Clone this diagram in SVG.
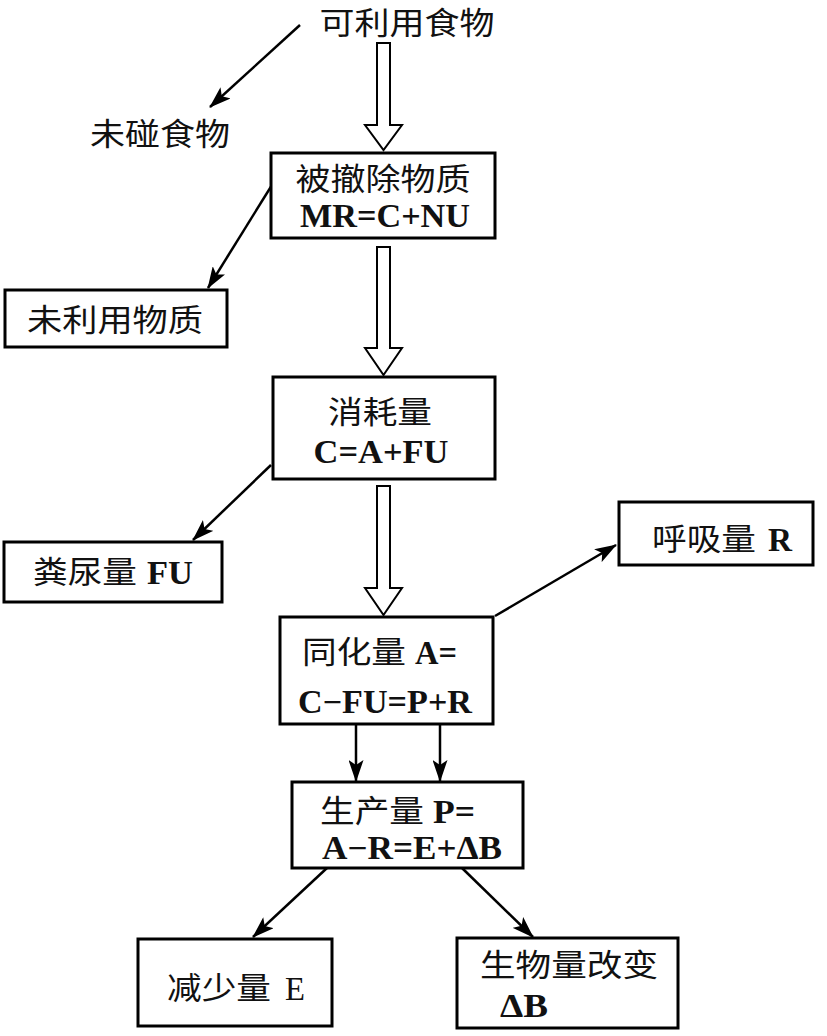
<svg xmlns="http://www.w3.org/2000/svg" width="827" height="1036" viewBox="0 0 827 1036">
<defs>
<style>
.box{fill:#fff;stroke:#000;stroke-width:3}
.cn{font-family:"Noto Sans CJK SC","Liberation Serif",serif;font-size:31px;fill:#111}
.lt{font-family:"Liberation Serif","Noto Sans CJK SC",serif;font-weight:bold;font-size:33px;fill:#111}
.rg{font-weight:normal}
.arr{fill:none;stroke:#000;stroke-width:2.5;marker-end:url(#ah)}
.hol{fill:#fff;stroke:#000;stroke-width:2;stroke-linejoin:miter}
</style>
<marker id="ah" viewBox="0 0 22 15" refX="21" refY="7.5" markerWidth="22" markerHeight="15" markerUnits="userSpaceOnUse" orient="auto">
<path d="M0,0 L22,7.5 L0,15 L5,7.5 z" fill="#000"/>
</marker>
</defs>
<rect width="827" height="1036" fill="#fff"/>

<g id="connectors">
<line class="arr" x1="300" y1="25" x2="210" y2="107"/>
<line class="arr" x1="272" y1="185" x2="208" y2="288"/>
<line class="arr" x1="271" y1="465" x2="193" y2="540"/>
<line class="arr" x1="495" y1="616" x2="616" y2="545"/>
<line class="arr" x1="356" y1="724" x2="356" y2="781"/>
<line class="arr" x1="440" y1="724" x2="440" y2="781"/>
<line class="arr" x1="327" y1="868" x2="253" y2="937"/>
<line class="arr" x1="462" y1="868" x2="533" y2="937"/>
<polygon class="hol" points="377,43 390,43 390,125 402,125 383.5,150 365,125 377,125"/>
<polygon class="hol" points="377,247 390,247 390,348 402,348 383.5,375 365,348 377,348"/>
<polygon class="hol" points="377,486 390,486 390,588 402,588 383.5,615 365,588 377,588"/>
</g>

<g id="food">
<text class="cn" x="407" y="34" text-anchor="middle" textLength="175" lengthAdjust="spacingAndGlyphs">可利用食物</text>
</g>
<g id="uneaten">
<text class="cn" x="160" y="145" text-anchor="middle" textLength="140" lengthAdjust="spacingAndGlyphs">未碰食物</text>
</g>
<g id="removed">
<rect class="box" x="271" y="153" width="224" height="85"/>
<text class="cn" x="383" y="190" text-anchor="middle" textLength="175" lengthAdjust="spacingAndGlyphs">被撤除物质</text>
<text class="lt" x="385" y="227" text-anchor="middle" textLength="170" lengthAdjust="spacingAndGlyphs">MR=C+NU</text>
</g>
<g id="unused">
<rect class="box" x="5" y="290" width="222" height="57"/>
<text class="cn" x="115" y="331" text-anchor="middle" textLength="176" lengthAdjust="spacingAndGlyphs">未利用物质</text>
</g>
<g id="consumed">
<rect class="box" x="273" y="377" width="222" height="102"/>
<text class="cn" x="380" y="423" text-anchor="middle" textLength="104" lengthAdjust="spacingAndGlyphs">消耗量</text>
<text class="lt" x="381" y="463" text-anchor="middle" textLength="135" lengthAdjust="spacingAndGlyphs">C=A+FU</text>
</g>
<g id="feces">
<rect class="box" x="4" y="542" width="218" height="60"/>
<text class="cn" x="33" y="583" textLength="104" lengthAdjust="spacingAndGlyphs">粪尿量</text>
<text class="lt" x="147" y="584" textLength="46" lengthAdjust="spacingAndGlyphs">FU</text>
</g>
<g id="respiration">
<rect class="box" x="619" y="502" width="194" height="63"/>
<text class="cn" x="652" y="550" textLength="104" lengthAdjust="spacingAndGlyphs">呼吸量</text>
<text class="lt" x="768" y="551" textLength="24" lengthAdjust="spacingAndGlyphs">R</text>
</g>
<g id="assimilated">
<rect class="box" x="280" y="617" width="213" height="107"/>
<text class="cn" x="302" y="663" textLength="104" lengthAdjust="spacingAndGlyphs">同化量</text>
<text class="lt" x="415" y="664" textLength="42" lengthAdjust="spacingAndGlyphs">A=</text>
<text class="lt" x="298" y="713" textLength="174" lengthAdjust="spacingAndGlyphs">C−FU=P+R</text>
</g>
<g id="production">
<rect class="box" x="292" y="782" width="231" height="86"/>
<text class="cn" x="320" y="822" textLength="104" lengthAdjust="spacingAndGlyphs">生产量</text>
<text class="lt" x="433" y="823" textLength="42" lengthAdjust="spacingAndGlyphs">P=</text>
<text class="lt" x="322" y="859" textLength="180" lengthAdjust="spacingAndGlyphs">A−R=E+ΔB</text>
</g>
<g id="reduction">
<rect class="box" x="138" y="939" width="194" height="87"/>
<text class="cn" x="167" y="999" textLength="104" lengthAdjust="spacingAndGlyphs">减少量</text>
<text class="lt rg" x="285" y="1000" textLength="20" lengthAdjust="spacingAndGlyphs">E</text>
</g>
<g id="biomass">
<rect class="box" x="457" y="938" width="221" height="90"/>
<text class="cn" x="480" y="976" textLength="178" lengthAdjust="spacingAndGlyphs">生物量改变</text>
<text class="lt" x="500" y="1017" textLength="48" lengthAdjust="spacingAndGlyphs">ΔB</text>
</g>
</svg>
